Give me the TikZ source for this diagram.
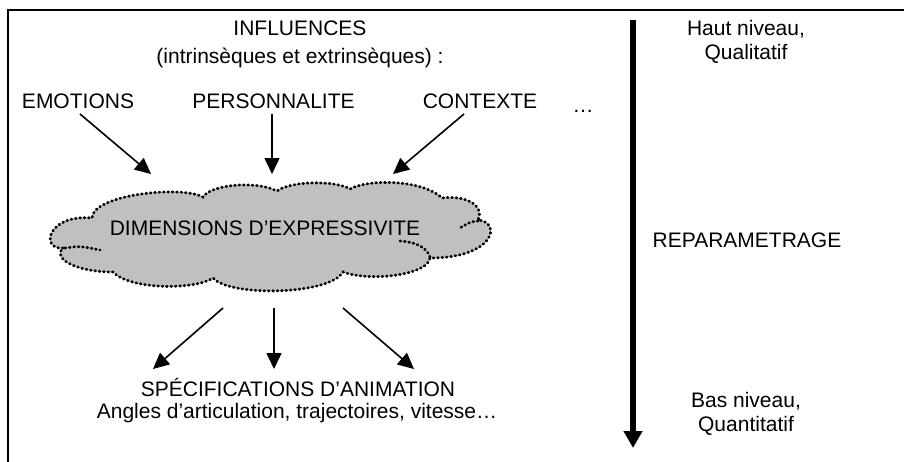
\documentclass[tikz,border=0pt]{standalone}
\usepackage{fontspec}
\setmainfont{Liberation Sans}
\usepackage{tikz}
\usetikzlibrary{arrows.meta, calc}
\definecolor{gris}{HTML}{C0C0C0}
\tikzset{
    texte/.style={font=\fontsize{21}{24}\selectfont, inner sep=0pt, outer sep=0pt},
    fleche/.style={-{Triangle[length=16pt, width=15pt]}, line width=1.6pt},
    grandefleche/.style={-{Triangle[length=17pt, width=18pt]}, line width=5.5pt},
    nuage/.style={fill=gris},
    pointille/.style={draw=black, line width=2.8pt, line cap=round, dash pattern=on 0.8pt off 3.6pt},
    cadre/.style={draw=black, line width=2pt}
}

\begin{document}
\begin{tikzpicture}[x=1pt, y=-1pt]
    \useasboundingbox (0,0) rectangle (904,461);
    \draw[cadre] (8,9.5) rectangle (930,490);

    % influences
    \node[texte, anchor=base] (infl) at (300,35) {INFLUENCES};
    \node[texte, anchor=base] (intext) at (300,63) {(intrinsèques et extrinsèques) :};
    \node[texte, anchor=base] (emo) at (78,108) {EMOTIONS};
    \node[texte, anchor=base] (perso) at (273.5,108) {PERSONNALITE};
    \node[texte, anchor=base] (ctx) at (480,108) {CONTEXTE};
    \node[texte, anchor=base] (etc) at (583,112) {…};

    % nuage
    \path[nuage, pointille] (63,248) .. controls (40,250) and (47,214) .. (92,218)
        .. controls (92,195) and (180,185) .. (203,197)
        .. controls (210,185) and (255,180) .. (277,191)
        .. controls (290,181) and (335,180) .. (350,189)
        .. controls (365,180) and (420,178) .. (442,198)
        .. controls (465,195) and (485,205) .. (478,220)
        .. controls (502,222) and (495,258) .. (430,258)
        .. controls (428,275) and (370,282) .. (343,272)
        .. controls (330,295) and (230,297) .. (213,278)
        .. controls (195,290) and (130,290) .. (113,272)
        .. controls (75,272) and (52,258) .. cycle;
    \draw[pointille] (65,248) .. controls (80,246) .. (100,250);
    \draw[pointille] (478,221) .. controls (470,222) .. (460,228);
    \draw[pointille] (430,257) .. controls (426,246) and (414,242) .. (400,241);
    \node[texte, anchor=base] (dims) at (265,235) {DIMENSIONS D’EXPRESSIVITE};

    \coordinate (c1) at (151,174);
    \coordinate (c2) at (272,174);
    \coordinate (c3) at (393,174);
    \draw[fleche] ($(emo.base)+(2,6)$) -- (c1);
    \draw[fleche] ($(perso.base)+(-1.5,6)$) -- (c2);
    \draw[fleche] ($(ctx.base)+(-16,6)$) -- (c3);

    % specifications
    \node[texte, anchor=base] (spec) at (298,396) {SPÉCIFICATIONS D’ANIMATION};
    \node[texte, anchor=base] (specdet) at (297,418) {Angles d’articulation, trajectoires, vitesse…};
    \coordinate (n1) at (223,308);
    \coordinate (n2) at (274,308);
    \coordinate (n3) at (343,308);
    \draw[fleche] (n1) -- ($(spec.base)+(-145,-27)$);
    \draw[fleche] (n2) -- ($(spec.base)+(-24,-27)$);
    \draw[fleche] (n3) -- ($(spec.base)+(116,-27)$);

    % reparametrage
    \coordinate (haut) at (633,20);
    \coordinate (bas) at (633,448);
    \draw[grandefleche] (haut) -- (bas);
    \node[texte, anchor=north, align=center] (hautniv) at (746,20) {Haut niveau,\\Qualitatif};
    \node[texte, anchor=base] (repar) at (747,247) {REPARAMETRAGE};
    \node[texte, anchor=north, align=center] (basniv) at (746,392) {Bas niveau,\\Quantitatif};
\end{tikzpicture}
\end{document}
